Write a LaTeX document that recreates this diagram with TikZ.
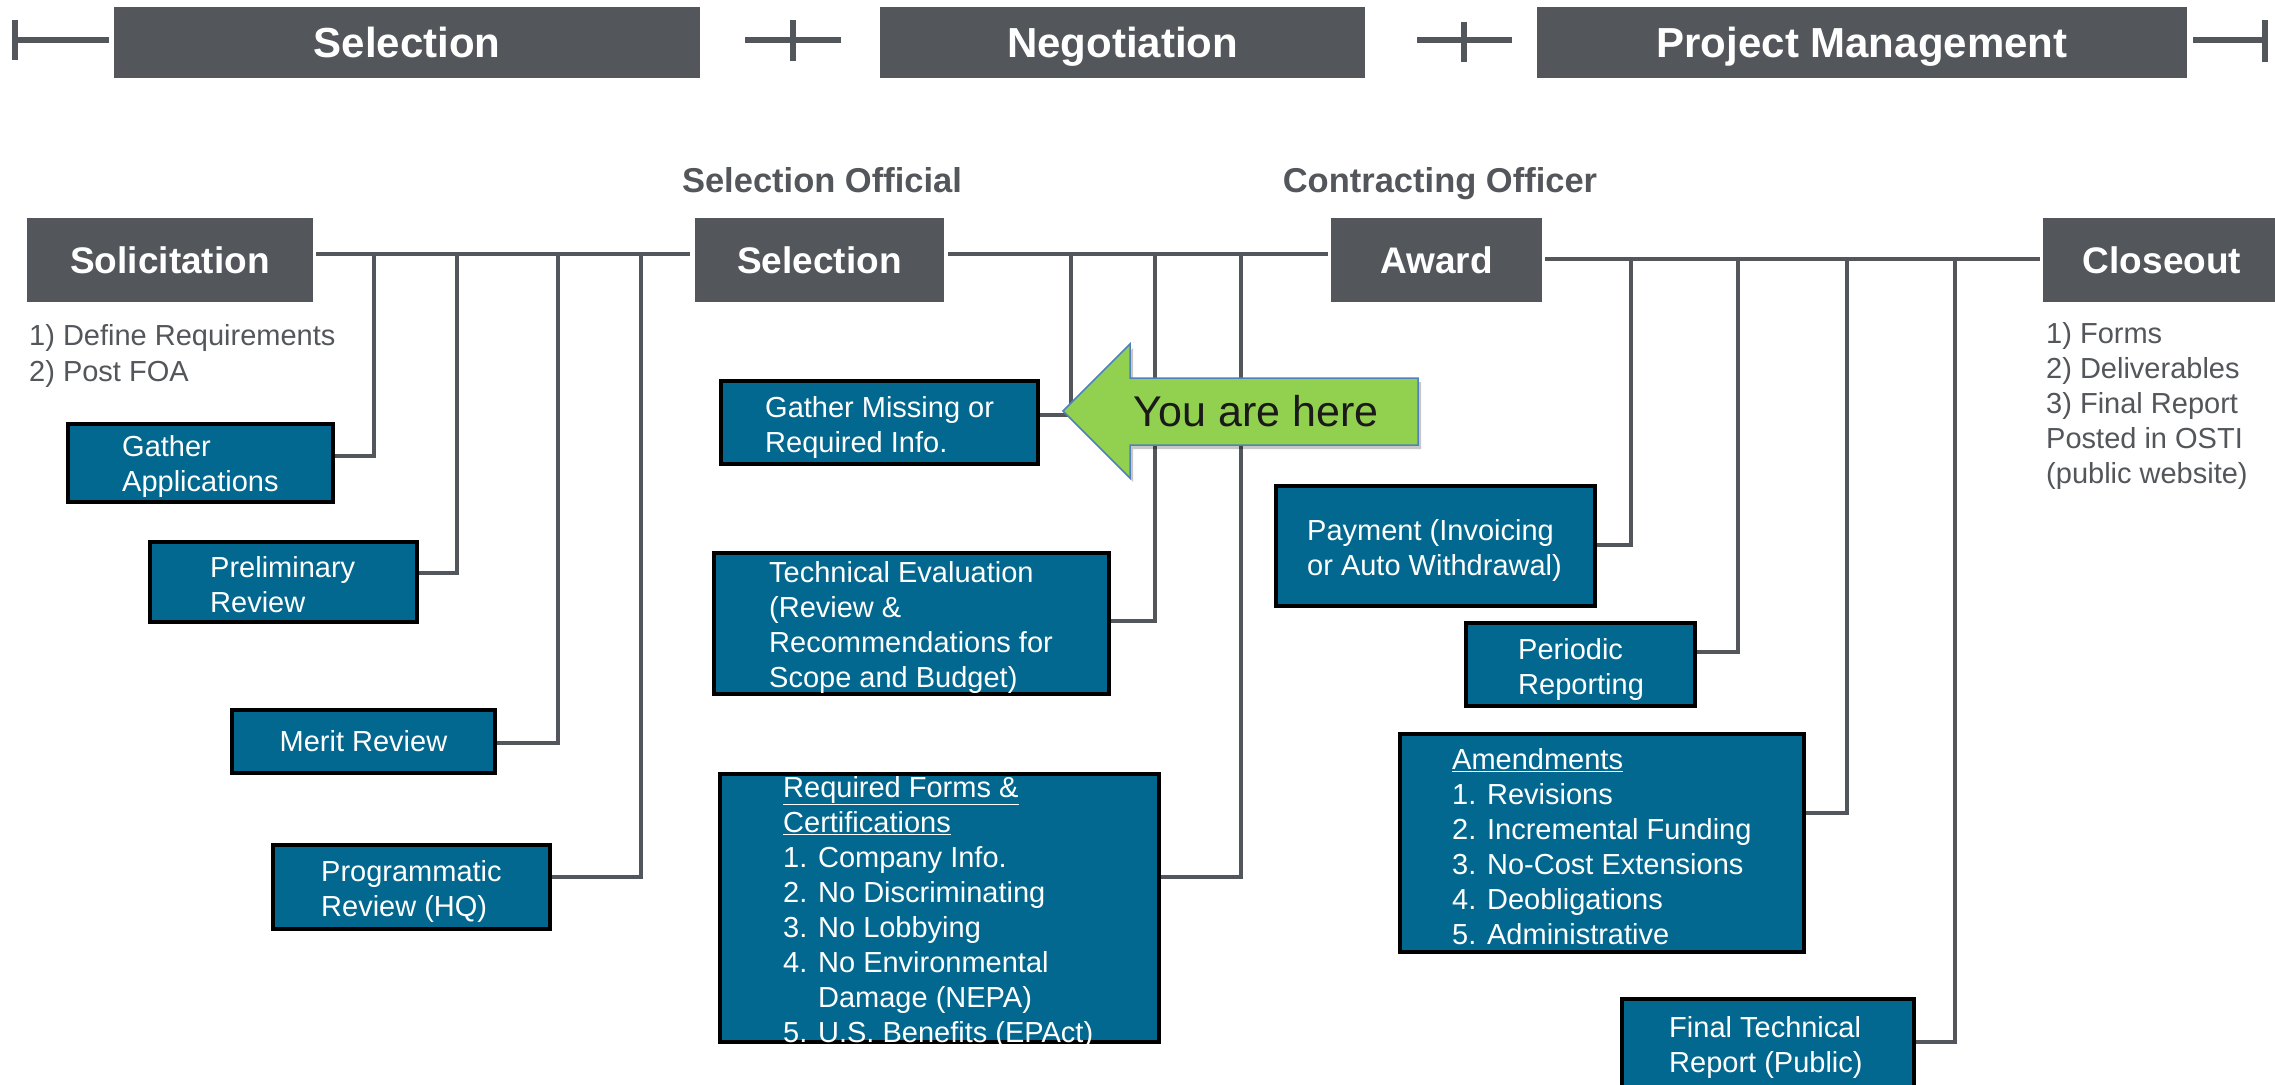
\documentclass[tikz,border=0pt]{standalone}
\usepackage{fontspec}
\setmainfont{Liberation Sans}
\definecolor{slate}{HTML}{53565A}
\definecolor{boxblue}{HTML}{03688F}
\definecolor{herefill}{HTML}{92D050}
\definecolor{hereedge}{HTML}{4F81BD}
\definecolor{heretext}{HTML}{1A1A1A}
\begin{document}
\begin{tikzpicture}[x=1pt,y=-1pt,
  banner/.style={fill=slate, text=white, inner sep=0, minimum height=71,
    font=\fontsize{42}{50}\selectfont\bfseries, text height=30pt, text depth=0pt},
  stage/.style={fill=slate, text=white, inner sep=0, minimum height=84,
    font=\fontsize{37}{44}\selectfont\bfseries, text height=26.5pt, text depth=0pt},
  role/.style={text=slate, inner sep=0,
    font=\fontsize{34.5}{41}\selectfont\bfseries, text height=24.7pt, text depth=0pt},
  task/.style={fill=boxblue, draw=black, line width=4, inner sep=0,
    text=white, font=\fontsize{29}{35}\selectfont, text height=20.8pt, text depth=0pt},
  tasktext/.style={text=white, inner sep=0, anchor=west, align=left,
    font=\fontsize{29}{35}\selectfont},
  note/.style={text=slate, inner sep=0, anchor=west, align=left},
  conn/.style={draw=slate, line width=4},
  tick/.style={draw=slate, line width=5.5},
]
\fill[white] (0,0) rectangle (2275,1084);
\useasboundingbox (0,0) rectangle (2275,1084);

% phase banners and their separators
\node[banner, minimum width=586] (bsel) at (407,42.5) {Selection};
\node[banner, minimum width=485] (bneg) at (1122.5,42.5) {Negotiation};
\node[banner, minimum width=650] (bpm) at (1862,42.5) {Project Management};
\draw[tick] (15,40) -- (109,40);  \draw[tick] (15,20) -- (15,60);
\draw[tick] (745,40) -- (841,40); \draw[tick] (793,20) -- (793,61);
\draw[tick] (1417,40) -- (1512,40); \draw[tick] (1464,22) -- (1464,62);
\draw[tick] (2193,40) -- (2265,40); \draw[tick] (2265,20) -- (2265,62);

% responsible officials
\node[role] (so) at (822,180.5) {Selection Official};
\node[role] (co) at (1440,180.5) {Contracting Officer};

% main stages
\node[stage, minimum width=286] (sol) at (170,260) {Solicitation};
\node[stage, minimum width=249] (sel) at (819.5,260) {Selection};
\node[stage, minimum width=211] (awd) at (1436.5,260) {Award};
\node[stage, minimum width=238] (clo) at (2162,260) {Closeout};

\draw[conn, shorten <=3, shorten >=5] (sol.east |- 0,254) -- (sel.west |- 0,254);
\draw[conn, shorten <=4, shorten >=3] (sel.east |- 0,254) -- (awd.west |- 0,254);
\draw[conn, shorten <=3, shorten >=3] (awd.east |- 0,259) -- (clo.west |- 0,259);

% stage notes
\node[note, font=\fontsize{29}{35.5}\selectfont] (solnote) at (29,356)
  {1) Define Requirements\\2) Post FOA};
\node[note, font=\fontsize{29}{34.8}\selectfont] (clonote) at (2046,406)
  {1) Forms\\2) Deliverables\\3) Final Report\\Posted in OSTI\\(public website)};

% solicitation tasks
\node[task, minimum width=265, minimum height=78] (ga) at (200.5,463) {};
\node[tasktext] (gat) at (122,466) {Gather\\Applications};
\node[task, minimum width=267, minimum height=80] (pr) at (283.5,582) {};
\node[tasktext] (prt) at (210,585) {Preliminary\\Review};
\node[task, minimum width=263, minimum height=63] (mr) at (363.5,741.5) {Merit Review};
\node[task, minimum width=277, minimum height=84] (pg) at (411.5,887) {};
\node[tasktext] (pgt) at (321,891) {Programmatic\\Review (HQ)};

\coordinate (s1) at (374,254);
\coordinate (s2) at (457,254);
\coordinate (s3) at (558,254);
\coordinate (s4) at (641,254);
\draw[conn] (s1) |- (ga.east |- 0,456);
\draw[conn] (s2) |- (pr.east |- 0,573);
\draw[conn] (s3) |- (mr.east |- 0,743);
\draw[conn] (s4) |- (pg.east |- 0,877);

% selection tasks
\node[task, minimum width=317, minimum height=83] (gm) at (879.5,422.5) {};
\node[tasktext] (gmt) at (765,427) {Gather Missing or\\Required Info.};
\node[task, minimum width=395, minimum height=141] (te) at (911.5,623.5) {};
\node[tasktext] (tet) at (769,627)
  {Technical Evaluation\\(Review \&\\Recommendations for\\Scope and Budget)};
\node[task, minimum width=439, minimum height=268] (rf) at (939.5,908) {};
\node[tasktext] (rft) at (783,912)
  {\underline{Required Forms \&}\\\underline{Certifications}\\1. Company Info.\\2. No Discriminating\\3. No Lobbying\\4. No Environmental\\\hphantom{4. }Damage (NEPA)\\5. U.S. Benefits (EPAct)};

\coordinate (n1) at (1071,254);
\coordinate (n2) at (1155,254);
\coordinate (n3) at (1241,254);
\draw[conn] (n1) |- (gm.east |- 0,415);
\draw[conn] (n2) |- (te.east |- 0,621);
\draw[conn] (n3) |- (rf.east |- 0,877);

% award tasks
\node[task, minimum width=319, minimum height=120] (pay) at (1435.5,546) {};
\node[tasktext] (payt) at (1307,550) {Payment (Invoicing\\or Auto Withdrawal)};
\node[task, minimum width=229, minimum height=83] (per) at (1580.5,664.5) {};
\node[tasktext] (pert) at (1518,669) {Periodic\\Reporting};
\node[task, minimum width=404, minimum height=218] (am) at (1602,843) {};
\node[tasktext] (amt) at (1452,847)
  {\underline{Amendments}\\1. Revisions\\2. Incremental Funding\\3. No-Cost Extensions\\4. Deobligations\\5. Administrative};
\node[task, minimum width=292, minimum height=99] (ftr) at (1768,1048.5) {};
\node[tasktext] (ftrt) at (1669,1047) {Final Technical\\Report (Public)};

\coordinate (a1) at (1631,259);
\coordinate (a2) at (1738,259);
\coordinate (a3) at (1847,259);
\coordinate (a4) at (1955,259);
\draw[conn] (a1) |- (pay.east |- 0,545);
\draw[conn] (a2) |- (per.east |- 0,652);
\draw[conn] (a3) |- (am.east |- 0,813);
\draw[conn] (a4) |- (ftr.east |- 0,1042);

% "you are here" marker
\fill[black, opacity=0.22] (1066,415) -- (1133,348) -- (1133,382) -- (1421,382)
  -- (1421,449) -- (1133,449) -- (1133,482) -- cycle;
\draw[fill=herefill, draw=hereedge, line width=1.5] (1063,411) -- (1130,344)
  -- (1130,378) -- (1418,378) -- (1418,445) -- (1130,445) -- (1130,478) -- cycle;
\node[inner sep=0, text=heretext, font=\fontsize{43}{50}\selectfont,
  text height=30.8pt, text depth=0pt] (here) at (1256,411.5) {You are here};
\end{tikzpicture}
\end{document}
